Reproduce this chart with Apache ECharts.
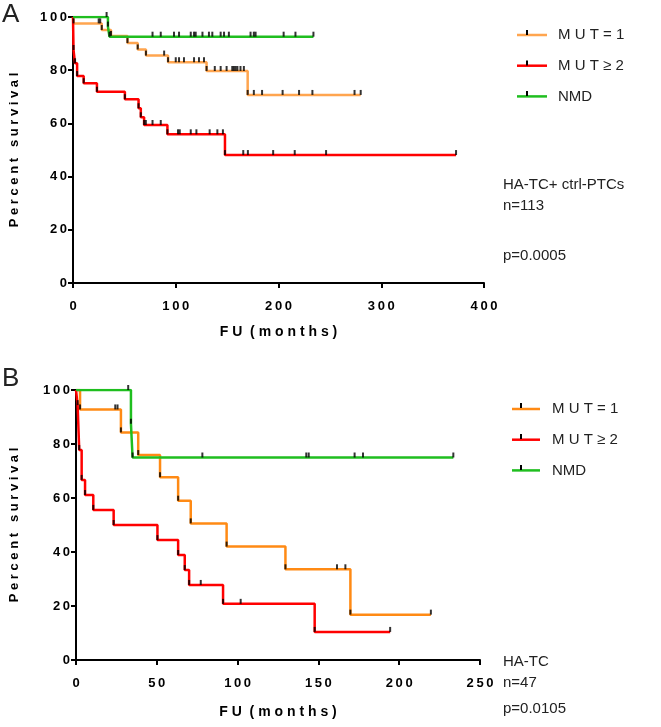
<!DOCTYPE html>
<html><head><meta charset="utf-8">
<script src="https://cdn.jsdelivr.net/npm/echarts@6/dist/echarts.min.js"></script>
<style>html,body{margin:0;padding:0;background:#fff}#c{width:661px;height:727px}</style>
</head><body><div id="c"></div>
<script>
const seriesNames = ['M U T = 1', 'M U T \u2265 2', 'NMD'];
const yTicks = [0, 20, 40, 60, 80, 100];
const xTicksA = [0, 100, 200, 300, 400];
const xTicksB = [0, 50, 100, 150, 200, 250];

// Panel A: [month, percent] at each step (survival after the event), last = end of follow-up
const mut1A = [[0,100],[0.5,97.6],[28,95.1],[37,92.9],[53,90.2],[63,87.8],[71,85.5],[92.5,83.0],[130,79.7],[170,70.7],[280,70.7]];
const mut1ACens = [25,26.5,88.7,100,103.2,108,117.8,122.6,127.5,138,143.7,149.5,155,156.6,158.3,160,163,166.3,176,184,204,220,233,274];
const mut2A = [[0,100],[0.5,87.6],[2,82.6],[4,77.8],[10.4,75.1],[23.3,71.9],[50.5,69.1],[63.8,65.7],[66,62.3],[69.2,59.4],[91.9,55.9],[147.9,48.1],[372.8,48.1]];
const mut2ACens = [70.9,77.4,85.4,102.2,103.9,114.6,120.1,133,140.5,145.9,165.7,170.2,194.8,215.8,246.3];
const nmdA = [[0,100],[34,96.4],[35.5,92.6],[234,92.6]];
const nmdACens = [32.7,77.4,85.4,98.3,103.2,114.6,117.8,119.4,126,132.3,135.6,143.7,147,151.7,172.8,176,177.7,205,216.5];

// Panel B
const mut1B = [[0,100],[2.5,92.8],[27.8,84.3],[38.5,75.9],[52,67.7],[63.2,59.0],[71,50.6],[93.2,42.0],[129.6,33.6],[169.8,16.8],[219.6,16.8]];
const mut1BCens = [24.3,25.7,161.5,166.7];
const mut2B = [[0,100],[1,94.4],[2,77.8],[3.5,66.7],[5.6,61.1],[10.7,55.6],[23.3,50.0],[50.4,44.4],[63.2,38.9],[67.3,33.3],[70,27.8],[91,20.8],[147.7,10.4],[194.4,10.4]];
const mut2BCens = [77.2,101.9];
const nmdB = [[0,100],[34,87.5],[35,75.0],[233.5,75.0]];
const nmdBCens = [32.3,78.2,142.5,144,172.4,177.6];

const colorsA = ['#FFA54F', '#FF0000', '#1FBE1F'];
const colorsB = ['#FF8A14', '#FF0000', '#1FBE1F'];

function levelAt(curve, t) {
  let v = curve[0][1];
  for (const p of curve) { if (p[0] <= t) v = p[1]; }
  return v;
}
function tickData(curve, cens) {
  const pts = curve.slice(1).map(p => [p[0], p[1]]);
  cens.forEach(t => pts.push([t, levelAt(curve, t)]));
  return pts;
}
const spaced = v => String(v).split('').join('\u2009');
const FONT = 'Liberation Sans, Arial';

function axes(idx, xmax, xint, nameGapX, nameGapY) {
  const lab = { color: '#000', fontWeight: 'bold', fontSize: 13, fontFamily: FONT, formatter: spaced };
  const x = {
    type: 'value', gridIndex: idx, min: 0, max: xmax, interval: xint,
    axisLine: { lineStyle: { color: '#000', width: 2 } },
    axisTick: { length: 5, lineStyle: { color: '#000', width: 2 } },
    splitLine: { show: false },
    axisLabel: Object.assign({ margin: 17 }, lab),
    name: 'F U  ( m o n t h s )', nameLocation: 'middle', nameGap: nameGapX,
    nameTextStyle: { color: '#000', fontWeight: 'bold', fontSize: 14, fontFamily: FONT }
  };
  const y = {
    type: 'value', gridIndex: idx, min: 0, max: 100, interval: 20,
    axisLine: { show: true, lineStyle: { color: '#000', width: 2 } },
    axisTick: { show: true, length: 5, lineStyle: { color: '#000', width: 2 } },
    splitLine: { show: false },
    axisLabel: Object.assign({ margin: 6 }, lab),
    name: 'P e r c e n t   s u r v i v a l', nameLocation: 'middle', nameGap: nameGapY,
    nameTextStyle: { color: '#000', fontWeight: 'bold', fontSize: 13, fontFamily: FONT }
  };
  return [x, y];
}
const [xA, yA] = axes(0, 400, 100, 42, 52);
const [xB, yB] = axes(1, 250, 50, 45, 55);

const series = [];
function addPanel(idx, curves, censs, colors) {
  curves.forEach((c, i) => {
    series.push({
      name: seriesNames[i], type: 'line', xAxisIndex: idx, yAxisIndex: idx,
      data: c, step: 'end', showSymbol: false, symbol: 'none',
      itemStyle: { color: colors[i] },
      lineStyle: { color: colors[i], width: 2.5 }, z: 2, silent: true
    });
  });
  curves.forEach((c, i) => {
    series.push({
      name: seriesNames[i] + ' censored', type: 'scatter', xAxisIndex: idx, yAxisIndex: idx,
      data: tickData(c, censs[i]), symbol: 'rect', symbolSize: [2, 5], symbolOffset: [0, -2.5],
      itemStyle: { color: '#000' }, z: 3, silent: true
    });
  });
}
addPanel(0, [mut1A, mut2A, nmdA], [mut1ACens, mut2ACens, nmdACens], colorsA);
addPanel(1, [mut1B, mut2B, nmdB], [mut1BCens, mut2BCens, nmdBCens], colorsB);

function legend(left, top, w, colors, padLeft) {
  return {
    orient: 'vertical', left: left, top: top, itemWidth: w, itemHeight: 2.5, itemGap: 14.7,
    icon: 'rect', selectedMode: false,
    itemStyle: { borderWidth: 0 },
    textStyle: { fontSize: 15, color: '#222', fontFamily: FONT, lineHeight: 16, padding: [0, 0, 0, padLeft] },
    data: seriesNames.map((n, i) => ({ name: n, itemStyle: { color: colors[i] } }))
  };
}

const txt = (x, y, t, size) => ({ type: 'text', left: x, top: y, style: { text: t, fontSize: size || 15, fill: '#222', fontFamily: FONT } });
const tick = (x, y) => ({ type: 'rect', shape: { x: x - 1, y: y - 5, width: 2, height: 5 }, style: { fill: '#000' }, z: 100 });

const chart = echarts.init(document.getElementById('c'), null, { renderer: 'canvas' });
chart.setOption({
  animation: false,
  backgroundColor: '#fff',
  grid: [
    { left: 72, top: 17, width: 412, height: 266 },
    { left: 75, top: 390, width: 405, height: 270 }
  ],
  xAxis: [xA, xB],
  yAxis: [yA, yB],
  legend: [legend(512, 22, 30, colorsA, 6), legend(507, 396, 28, colorsB, 7)],
  series: series,
  graphic: [
    txt(2, 2, 'A', 26), txt(2, 366, 'B', 26),
    txt(503, 177, 'HA-TC+ ctrl-PTCs'), txt(503, 198, 'n=113'), txt(503, 248, 'p=0.0005'),
    txt(503, 654, 'HA-TC'), txt(503, 675, 'n=47'), txt(503, 701, 'p=0.0105'),
    tick(527, 35), tick(527, 65.5), tick(527, 96),
    tick(521, 408), tick(521, 439), tick(521, 470)
  ]
});
</script></body></html>
